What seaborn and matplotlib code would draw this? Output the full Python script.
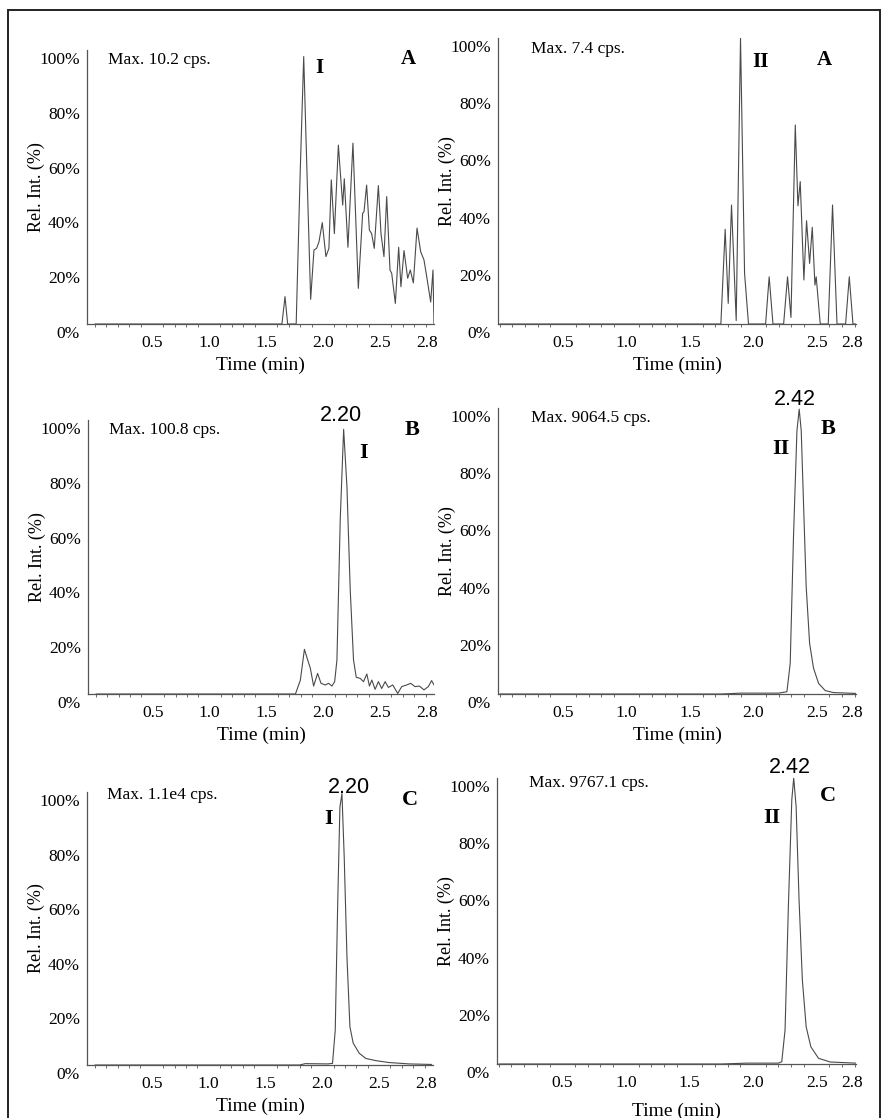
import matplotlib
matplotlib.use("Agg")
import matplotlib.pyplot as plt
import matplotlib.transforms as mtransforms
from matplotlib.patches import Rectangle
from matplotlib.ticker import MultipleLocator
import seaborn as sns

# ── Data ──────────────────────────────────────────────────
# top-left, blank, analyte I
a1_time = [0.0, 1.64, 1.667, 1.69, 1.765, 1.80, 1.831, 1.86, 1.892, 1.921, 1.944, 1.965,
           1.994, 2.026, 2.052, 2.073, 2.10, 2.135, 2.173, 2.187, 2.219, 2.263, 2.31,
           2.348, 2.36, 2.383, 2.407, 2.427, 2.45, 2.486, 2.509, 2.535, 2.559, 2.588,
           2.603, 2.635, 2.664, 2.684, 2.711, 2.743, 2.766, 2.793, 2.825, 2.857, 2.886,
           2.91, 2.945, 2.965, 2.974]
a1_rel = [0, 0, 10, 0, 0, 55, 97.6, 55, 9, 27, 27.6, 30,
          37, 24.6, 27.6, 52.6, 33, 65.3, 43.4, 53, 28, 66, 13,
          40.4, 41, 50.7, 34.3, 33, 27.6, 50.5, 33, 24.6, 46.5, 19.7,
          18.5, 7.5, 28, 13.6, 26.8, 16.7, 19.7, 15, 35, 26.4, 23.4,
          17.3, 8, 19.7, 0]

# top-right, blank, analyte II
a2_time = [0.0, 1.744, 1.778, 1.802, 1.828, 1.865, 1.899, 1.931, 1.962, 2.097, 2.125,
           2.155, 2.239, 2.27, 2.297, 2.331, 2.352, 2.37, 2.399, 2.42, 2.444, 2.465,
           2.486, 2.496, 2.528, 2.591, 2.625, 2.66, 2.728, 2.757, 2.786, 2.81]
a2_rel = [0, 0, 33.1, 7.2, 41.6, 1.2, 100, 17.7, 0, 0, 16.5,
          0, 0, 16.5, 2.3, 69.6, 41.3, 49.8, 15.4, 36.1, 21.2, 33.8,
          13.6, 16.5, 0, 0, 41.6, 0, 0, 16.5, 0, 0]

# middle-left, LLOQ, analyte I
b1_time = [0.0, 1.755, 1.798, 1.834, 1.872, 1.886, 1.915, 1.95, 1.98, 2.018, 2.047,
           2.076, 2.10, 2.12, 2.149, 2.179, 2.208, 2.237, 2.266, 2.29, 2.325, 2.354,
           2.383, 2.406, 2.427, 2.456, 2.485, 2.514, 2.544, 2.573, 2.611, 2.655, 2.69,
           2.734, 2.769, 2.807, 2.845, 2.886, 2.924, 2.953, 2.974]
b1_rel = [0, 0, 5, 16.3, 11.2, 9.4, 2.9, 7.5, 3.9, 3.3, 3.9,
          2.9, 4.5, 12.4, 63.5, 96.6, 75.7, 38, 12.4, 6.1, 5.7, 4.5,
          7.3, 2.9, 5.1, 1.7, 4.5, 2, 4.5, 2.4, 3.3, 0.2, 2.7,
          3.3, 3.9, 2.7, 2.9, 1.5, 2.7, 4.9, 3.3]

# middle-right, LLOQ, analyte II
b2_time = [0.0, 1.75, 1.9, 2.2, 2.265, 2.291, 2.317, 2.344, 2.362, 2.378, 2.396,
           2.417, 2.444, 2.475, 2.515, 2.567, 2.633, 2.81]
b2_rel = [0, 0, 0.3, 0.3, 0.8, 10.7, 55, 92, 99.6, 92, 66.7,
          37.6, 17.7, 9, 3.7, 1.2, 0.5, 0.2]

# bottom-left, sample, analyte I
c1_time = [0.0, 1.8, 1.85, 2.05, 2.09, 2.114, 2.135, 2.155, 2.173, 2.193, 2.217,
           2.243, 2.272, 2.325, 2.383, 2.471, 2.588, 2.763, 2.962]
c1_rel = [0, 0, 0.5, 0.4, 0.6, 12.8, 58, 94.5, 99.4, 76, 39.6,
          14, 8, 4.3, 2.4, 1.6, 0.9, 0.4, 0.2]

# bottom-right, sample, analyte II
c2_time = [0.0, 1.75, 1.95, 2.2, 2.226, 2.252, 2.278, 2.305, 2.32, 2.339, 2.362,
           2.388, 2.418, 2.455, 2.515, 2.607, 2.81]
c2_rel = [0, 0, 0.3, 0.3, 0.8, 11.9, 55, 92.4, 100, 90, 57.4,
          29.4, 13, 6, 2, 0.7, 0.3]

max_labels = ["Max. 10.2 cps.", "Max. 7.4 cps.", "Max. 100.8 cps.",
              "Max. 9064.5 cps.", "Max. 1.1e4 cps.", "Max. 9767.1 cps."]
peak_labels = [None, None, "2.20", "2.42", "2.20", "2.42"]
compounds = ["I", "II", "I", "II", "I", "II"]
panel_letters = ["A", "A", "B", "B", "C", "C"]
y_ticks = [0, 20, 40, 60, 80, 100]
y_tick_labels = ["0%", "20%", "40%", "60%", "80%", "100%"]
x_tick_labels = ["0.5", "1.0", "1.5", "2.0", "2.5", "2.8"]

traces = [(a1_time, a1_rel), (a2_time, a2_rel), (b1_time, b1_rel),
          (b2_time, b2_rel), (c1_time, c1_rel), (c2_time, c2_rel)]

# ── Layout (pixels: left, top, right, bottom) ────────────
W, H = 883, 1118
boxes = [(87, 50, 434, 324), (498, 38, 856, 324),
         (88, 420, 434, 694), (498, 408, 856, 694),
         (87, 792, 433, 1065), (497, 778, 856, 1064)]
xlims = [(-0.07, 2.974), (-0.014, 2.81)]
x_tick_pos = [[0.5, 1.0, 1.5, 2.0, 2.5, 2.912], [0.5, 1.0, 1.5, 2.0, 2.5, 2.78]]
xlabel_pad = [4, 4, 4, 4, 4, 8]

# text positions in axes fraction
max_pos = [(0.06, 0.964), (0.092, 0.962), (0.061, 0.964),
           (0.092, 0.965), (0.058, 0.989), (0.089, 0.983)]
peak_pos = [None, None, (0.731, 1.015), (0.83, 1.031), (0.757, 1.015), (0.816, 1.035)]
cmp_pos = [(0.669, 0.934), (0.732, 0.916), (0.795, 0.88),
           (0.791, 0.857), (0.697, 0.901), (0.766, 0.86)]
let_pos = [(0.925, 0.967), (0.913, 0.923), (0.936, 0.964),
           (0.922, 0.927), (0.934, 0.971), (0.922, 0.937)]

sns.set_theme(style="white")
plt.rcParams['font.family'] = ['Liberation Serif', 'DejaVu Serif']
plt.rcParams['text.color'] = 'black'
plt.rcParams['axes.labelcolor'] = 'black'
plt.rcParams['xtick.color'] = 'black'
plt.rcParams['ytick.color'] = 'black'

fig = plt.figure(figsize=(W / 100, H / 100), dpi=100)
line_col = '#4a4a4a'
ylab_shift = mtransforms.ScaledTranslation(0, -0.08, fig.dpi_scale_trans)

for i, ((t, r), (l, top, rgt, bot)) in enumerate(zip(traces, boxes)):
    col = i % 2
    ax = fig.add_axes([l / W, 1 - bot / H, (rgt - l) / W, (bot - top) / H])
    sns.lineplot(x=t, y=r, ax=ax, color=line_col, linewidth=0.8,
                 estimator=None, sort=False)
    ax.set_xlim(*xlims[col])
    ax.set_ylim(0, 100)
    ax.set_facecolor('white')
    for s in ['top', 'right']:
        ax.spines[s].set_visible(False)
    for s in ['left', 'bottom']:
        ax.spines[s].set_color('#555555')
        ax.spines[s].set_linewidth(0.9)

    ax.set_yticks(y_ticks)
    ax.set_yticklabels(y_tick_labels, fontsize=12.5)
    ax.tick_params(axis='y', length=0, pad=5)
    for lab in ax.get_yticklabels():
        lab.set_transform(lab.get_transform() + ylab_shift)

    ax.set_xticks(x_tick_pos[col])
    ax.set_xticklabels(x_tick_labels, fontsize=12.5)
    ax.xaxis.set_minor_locator(MultipleLocator(0.1))
    ax.tick_params(axis='x', which='major', length=0, pad=8)
    ax.tick_params(axis='x', which='minor', length=2.5, width=0.6,
                   color='#555555', bottom=True, direction='out')

    ax.set_xlabel("Time (min)", fontsize=14, labelpad=xlabel_pad[i])
    ax.set_ylabel("Rel. Int. (%)", fontsize=13)
    ax.yaxis.set_label_coords(-42 / (rgt - l), 0.5)

    ax.text(*max_pos[i], max_labels[i], transform=ax.transAxes,
            ha='left', va='center', fontsize=12.5)
    if peak_labels[i]:
        ax.text(*peak_pos[i], peak_labels[i], transform=ax.transAxes,
                ha='center', va='center', fontsize=15.5,
                family=['Liberation Sans', 'DejaVu Sans'], clip_on=False)
    size = 15 if i < 2 else 16
    ax.text(*cmp_pos[i], compounds[i], transform=ax.transAxes,
            ha='center', va='center', fontsize=size, fontweight='bold')
    ax.text(*let_pos[i], panel_letters[i], transform=ax.transAxes,
            ha='center', va='center', fontsize=size, fontweight='bold')

# outer frame
fig.patches.append(Rectangle((8 / W, -0.01), (880 - 8) / W, 1 - 10 / H + 0.01,
                             transform=fig.transFigure, fill=False,
                             linewidth=1.4, edgecolor='#222222'))

fig.savefig("out.png", dpi=100, facecolor='white')
